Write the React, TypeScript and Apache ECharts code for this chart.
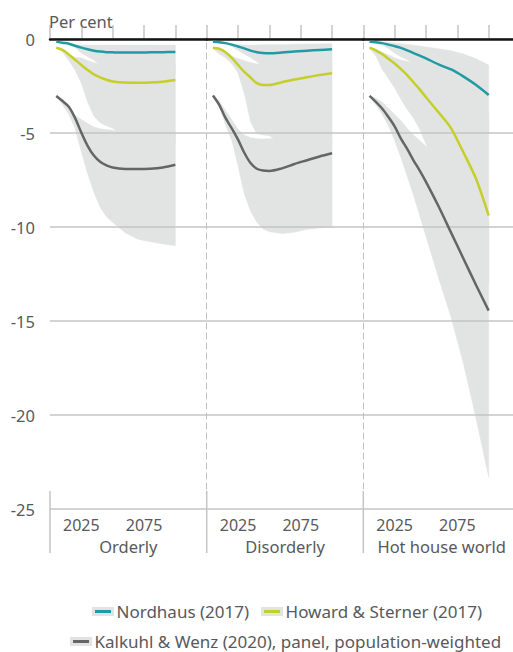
import React, { useEffect, useRef } from "react";
import * as echarts from "echarts";

// ---------- data ----------
const YEARS = [2005, 2010, 2015, 2020, 2025, 2030, 2035, 2040, 2045, 2050, 2060, 2070, 2080, 2090, 2100];
const SCENARIOS = ["Orderly", "Disorderly", "Hot house world"];
const MODELS = ["Nordhaus (2017)", "Howard & Sterner (2017)", "Kalkuhl & Wenz (2020), panel, population-weighted"];
const X_TICKS = [2000, 2025, 2050, 2075, 2100];
const X_LABELS = [2025, 2075];

// Orderly
const ORD_NORDHAUS = [-0.14, -0.2, -0.25, -0.36, -0.46, -0.55, -0.62, -0.67, -0.7, -0.71, -0.72, -0.72, -0.71, -0.7, -0.69];
const ORD_HOWARD = [-0.46, -0.58, -0.82, -1.1, -1.38, -1.65, -1.88, -2.04, -2.17, -2.26, -2.32, -2.33, -2.32, -2.27, -2.18];
const ORD_KALKUHL = [-3.03, -3.3, -3.6, -4.2, -4.98, -5.68, -6.2, -6.53, -6.72, -6.83, -6.91, -6.92, -6.9, -6.83, -6.69];
const ORD_NORDHAUS_HI = [-0.13, -0.19, -0.24, -0.3, -0.32, -0.32, -0.32, -0.32, -0.32, -0.32, -0.32, -0.32, -0.32, -0.32, -0.32];
const ORD_NORDHAUS_LO = [-0.16, -0.22, -0.3, -0.45, -0.75, -0.95, -1.12, -1.4, -1.6, -1.8, -1.8, -1.8, -1.8, -1.8, -1.8];
const ORD_HOWARD_HI = [-0.45, -0.57, -0.8, -0.98, -1.0, -1.15, -1.25, -1.35, -1.4, -1.4, -1.4, -1.4, -1.4, -1.4, -1.4];
const ORD_HOWARD_LO = [-0.5, -0.7, -1.15, -1.65, -2.35, -3.35, -4.1, -4.45, -4.62, -4.75, -5.2, -5.5, -5.5, -5.5, -5.5];
const ORD_KALKUHL_HI = [-3.0, -3.3, -3.7, -4.05, -4.28, -4.5, -4.68, -4.77, -4.82, -4.85, -5.0, -5.0, -5.0, -5.0, -5.0];
const ORD_KALKUHL_LO = [-3.05, -3.5, -4.0, -4.75, -6.0, -7.15, -8.15, -8.95, -9.45, -9.75, -10.3, -10.65, -10.78, -10.9, -11.0];

// Disorderly
const DIS_NORDHAUS = [-0.14, -0.17, -0.22, -0.3, -0.4, -0.5, -0.62, -0.7, -0.75, -0.76, -0.72, -0.66, -0.62, -0.58, -0.55];
const DIS_HOWARD = [-0.46, -0.52, -0.7, -1.0, -1.38, -1.75, -2.05, -2.35, -2.45, -2.45, -2.3, -2.15, -2.03, -1.92, -1.82];
const DIS_KALKUHL = [-3.0, -3.5, -4.2, -4.75, -5.35, -6.05, -6.6, -6.9, -7.0, -7.02, -6.88, -6.65, -6.45, -6.25, -6.08];
const DIS_NORDHAUS_HI = [-0.13, -0.16, -0.2, -0.26, -0.3, -0.32, -0.32, -0.32, -0.31, -0.3, -0.3, -0.28, -0.27, -0.26, -0.25];
const DIS_NORDHAUS_LO = [-0.16, -0.2, -0.26, -0.4, -0.6, -0.8, -1.0, -1.2, -1.5, -1.7, -1.8, -1.8, -1.8, -1.8, -1.8];
const DIS_HOWARD_HI = [-0.45, -0.51, -0.66, -0.9, -1.05, -1.15, -1.25, -1.32, -1.4, -1.42, -1.42, -1.42, -1.42, -1.42, -1.42];
const DIS_HOWARD_LO = [-0.5, -0.8, -1.0, -1.3, -1.8, -2.9, -4.4, -5.05, -5.1, -5.15, -5.6, -5.6, -5.6, -5.6, -5.6];
const DIS_KALKUHL_HI = [-3.0, -3.3, -3.8, -4.3, -4.8, -5.1, -5.25, -5.3, -5.32, -5.3, -5.3, -5.3, -5.3, -5.3, -5.3];
const DIS_KALKUHL_LO = [-3.05, -3.6, -4.55, -5.4, -6.75, -8.25, -9.15, -9.75, -10.1, -10.25, -10.35, -10.28, -10.12, -10.05, -10.0];

// Hot house world
const HOT_NORDHAUS = [-0.14, -0.17, -0.22, -0.3, -0.38, -0.47, -0.6, -0.75, -0.88, -1.03, -1.35, -1.62, -2.0, -2.45, -2.98];
const HOT_HOWARD = [-0.46, -0.6, -0.8, -1.05, -1.3, -1.6, -1.92, -2.3, -2.68, -3.1, -3.9, -4.75, -6.05, -7.45, -9.4];
const HOT_KALKUHL = [-3.03, -3.35, -3.7, -4.15, -4.65, -5.3, -5.85, -6.45, -7.0, -7.6, -8.9, -10.3, -11.7, -13.1, -14.45];
const HOT_NORDHAUS_HI = [-0.12, -0.13, -0.15, -0.18, -0.21, -0.25, -0.29, -0.33, -0.37, -0.42, -0.52, -0.62, -0.8, -1.05, -1.38];
const HOT_NORDHAUS_LO = [-0.16, -0.22, -0.32, -0.5, -0.75, -0.95, -1.1, -1.35, -1.6, -1.9, -2.4, -2.9, -3.5, -4.2, -5.0];
const HOT_HOWARD_HI = [-0.45, -0.55, -0.7, -0.85, -1.0, -1.12, -1.2, -1.28, -1.4, -1.55, -1.9, -2.3, -2.8, -3.3, -3.9];
const HOT_HOWARD_LO = [-0.5, -0.9, -1.6, -2.1, -2.6, -3.2, -3.75, -4.2, -4.8, -5.6, -7.0, -8.5, -10.0, -11.5, -13.0];
const HOT_KALKUHL_HI = [-3.0, -3.15, -3.35, -3.7, -4.0, -4.35, -4.75, -5.1, -5.4, -5.7, -6.5, -7.2, -8.0, -8.8, -9.6];
const HOT_KALKUHL_LO = [-3.05, -3.5, -4.0, -4.6, -5.4, -6.3, -7.3, -8.3, -9.4, -10.5, -12.7, -14.8, -17.3, -20.2, -23.3];

// ---------- styles ----------
const COLORS = ["#1f9ba4", "#c5cf2a", "#646666"];
const BAND = "#e2e3e3";
const TEXT = "#58595b";
const GRID_LINE = "#c4c4c4";
const FONT = "'Noto Sans', 'Open Sans', sans-serif";

const PANEL_LEFT = [50, 206.7, 363.3];
const PANEL_W = [156.7, 156.7, 149.7];
const X_MAX = [2125, 2125, 2119.4];
const TOP = 39;
const BOTTOM_Y = 509;

const LINES = [
  [ORD_NORDHAUS, ORD_HOWARD, ORD_KALKUHL],
  [DIS_NORDHAUS, DIS_HOWARD, DIS_KALKUHL],
  [HOT_NORDHAUS, HOT_HOWARD, HOT_KALKUHL],
];
const BANDS = [
  [[ORD_NORDHAUS_HI, ORD_NORDHAUS_LO], [ORD_HOWARD_HI, ORD_HOWARD_LO], [ORD_KALKUHL_HI, ORD_KALKUHL_LO]],
  [[DIS_NORDHAUS_HI, DIS_NORDHAUS_LO], [DIS_HOWARD_HI, DIS_HOWARD_LO], [DIS_KALKUHL_HI, DIS_KALKUHL_LO]],
  [[HOT_NORDHAUS_HI, HOT_NORDHAUS_LO], [HOT_HOWARD_HI, HOT_HOWARD_LO], [HOT_KALKUHL_HI, HOT_KALKUHL_LO]],
];

function buildOption() {
  const grid: any[] = [];
  const xAxis: any[] = [];
  const yAxis: any[] = [];
  const series: any[] = [];

  SCENARIOS.forEach((name, p) => {
    grid.push({ left: PANEL_LEFT[p], top: TOP, width: PANEL_W[p], height: BOTTOM_Y - TOP, containLabel: false });
    xAxis.push({
      type: "value",
      gridIndex: p,
      min: 2000,
      max: X_MAX[p],
      position: "bottom",
      name,
      nameLocation: "middle",
      nameGap: 29,
      nameTextStyle: {
        color: TEXT,
        fontSize: 16.5,
        fontFamily: FONT,
        padding: p === 2 ? [0, 0, 0, 7] : 0,
      },
      axisLine: { show: true, lineStyle: { color: GRID_LINE, width: 1.5 } },
      axisTick: { show: true, inside: true, length: 14, customValues: X_TICKS, lineStyle: { color: GRID_LINE, width: 1.5 } },
      axisLabel: { show: true, customValues: X_LABELS, margin: 8, color: TEXT, fontSize: 16, fontFamily: FONT, formatter: (v: number) => String(v) },
      splitLine: { show: false },
    });
    yAxis.push({
      type: "value",
      gridIndex: p,
      min: -25,
      max: 0,
      interval: 5,
      z: 1.5,
      axisLine: p === 0 ? { show: false } : { show: true, lineStyle: { color: "#c0c0c0", width: 1, type: [6, 4] } },
      axisTick: { show: false },
      axisLabel: p === 0 ? { show: true, margin: 15, color: TEXT, fontSize: 16.5, fontFamily: FONT } : { show: false },
      splitLine: { show: true, lineStyle: { color: GRID_LINE, width: 1.5 } },
    });
  });
  // top zero lines
  SCENARIOS.forEach((_, p) => {
    xAxis.push({
      type: "value",
      gridIndex: p,
      min: 2000,
      max: X_MAX[p],
      position: "top",
      z: 3,
      axisLine: { show: true, lineStyle: { color: "#151515", width: 2.5 } },
      axisTick: { show: false },
      axisLabel: { show: false },
      splitLine: { show: false },
    });
  });

  SCENARIOS.forEach((_, p) => {
    BANDS[p].forEach(([hi, lo], m) => {
      series.push({
        type: "custom",
        name: "band-" + p + "-" + m,
        xAxisIndex: p,
        yAxisIndex: p,
        z: 1,
        silent: true,
        encode: { x: 0, y: [1, 2] },
        data: YEARS.map((yr, i) => [yr, hi[i], lo[i]]),
        renderItem: (params: any, api: any) => {
          if (params.dataIndex !== 0) return null;
          const top: number[][] = [];
          const bot: number[][] = [];
          for (let i = 0; i < YEARS.length; i++) {
            const x = api.value(0, i);
            top.push(api.coord([x, api.value(1, i)]));
            bot.push(api.coord([x, api.value(2, i)]));
          }
          return {
            type: "polygon",
            shape: { points: top.concat(bot.reverse()) },
            style: { fill: BAND, stroke: BAND, lineWidth: 0.5 },
          };
        },
      });
    });
  });

  SCENARIOS.forEach((_, p) => {
    LINES[p].forEach((vals, m) => {
      series.push({
        type: "line",
        name: MODELS[m],
        xAxisIndex: p,
        yAxisIndex: p,
        z: 4,
        smooth: 0.3,
        symbol: "none",
        color: COLORS[m],
        lineStyle: { color: COLORS[m], width: 2.5 },
        data: YEARS.map((yr, i) => [yr, vals[i]]),
      });
    });
  });

  const legendCommon = {
    icon: "rect",
    itemWidth: 19,
    itemHeight: 6,
    itemGap: 12,
    padding: 0,
    orient: "horizontal",
    selectedMode: false,
    itemStyle: { borderColor: BAND, borderWidth: 3 },
    textStyle: { color: TEXT, fontSize: 17, fontFamily: FONT, padding: [0, 0, 0, -1] },
  };

  const sepLines = PANEL_LEFT.map((x) => ({
    type: "line",
    shape: { x1: x, y1: 491, x2: x, y2: 553 },
    style: { stroke: GRID_LINE, lineWidth: 1.5 },
    z: 10,
  }));

  return {
    animation: false,
    backgroundColor: "#ffffff",
    textStyle: { fontFamily: FONT },
    title: {
      text: "Per cent",
      left: 49,
      top: 13,
      padding: 0,
      textStyle: { color: TEXT, fontSize: 16.5, fontWeight: "normal", fontFamily: FONT },
    },
    grid,
    xAxis,
    yAxis,
    legend: [
      { ...legendCommon, left: 92, top: 603, data: [MODELS[0], MODELS[1]] },
      { ...legendCommon, left: 70, top: 633, data: [MODELS[2]] },
    ],
    graphic: sepLines,
    series,
  };
}

export default function App() {
  const ref = useRef<HTMLDivElement>(null);
  useEffect(() => {
    document.body.style.margin = "0";
    if (!ref.current) return;
    const chart = echarts.init(ref.current, null, { renderer: "svg" });
    chart.setOption(buildOption() as any);
    return () => chart.dispose();
  }, []);
  return <div ref={ref} style={{ width: 513, height: 652, overflow: "hidden" }} />;
}
